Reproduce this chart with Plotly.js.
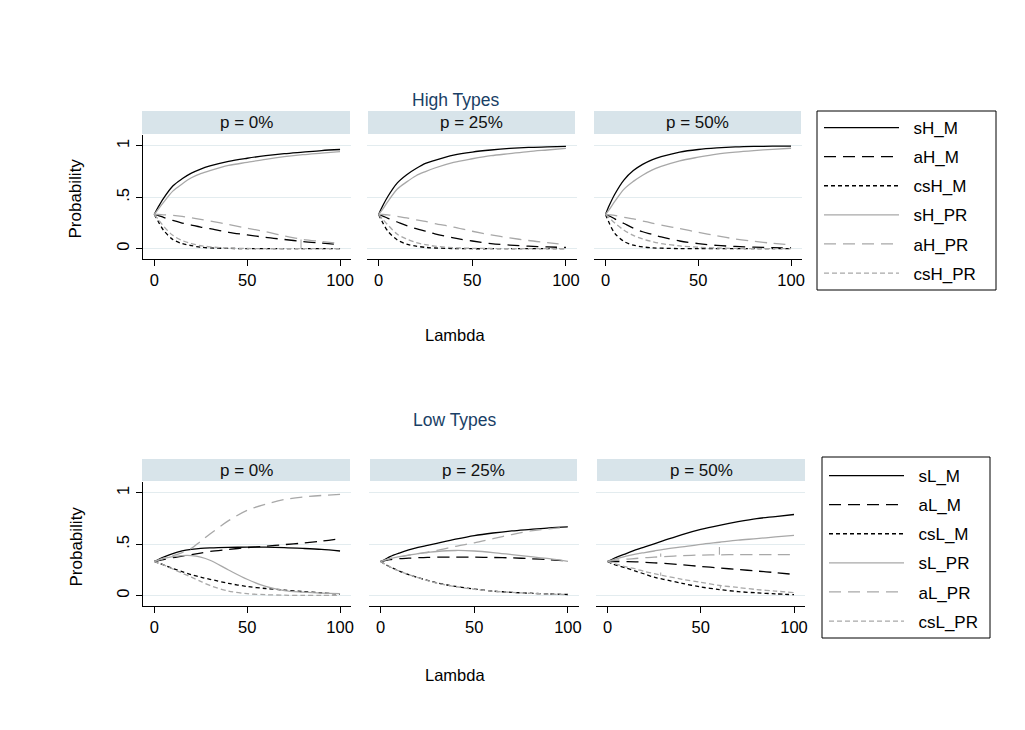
<!DOCTYPE html>
<html><head><meta charset="utf-8">
<script src="https://cdn.plot.ly/plotly-3.0.1.min.js"></script>
<style>html,body{margin:0;padding:0;background:#fff}#chart{width:1025px;height:730px}</style>
</head><body><div id="chart"></div>
<script>
// ---- data ----
const lambda = [0,2,5,10,15,20,25,30,40,50,60,70,80,90,100];
const panelLabels = ['p = 0%','p = 25%','p = 50%'];
const highNames = ['sH_M','aH_M','csH_M','sH_PR','aH_PR','csH_PR'];
const lowNames  = ['sL_M','aL_M','csL_M','sL_PR','aL_PR','csL_PR'];
const yTickVals = [0,0.5,1];
const yTickText = ['0','.5','1'];
const xTickVals = [0,50,100];

// High types, p = 0%
const sH_M_p0  = [.333,.40,.49,.61,.68,.735,.775,.805,.85,.88,.905,.925,.94,.955,.965];
const aH_M_p0  = [.333,.325,.305,.275,.25,.23,.21,.195,.16,.135,.11,.09,.07,.055,.04];
const csH_M_p0 = [.333,.27,.18,.09,.05,.03,.015,.008,.003,.001,0,0,0,0,0];
const sH_PR_p0 = [.333,.38,.45,.56,.63,.69,.73,.76,.81,.84,.87,.895,.915,.93,.945];
const aH_PR_p0 = [.333,.333,.33,.325,.315,.30,.285,.27,.235,.2,.165,.125,.09,.07,.05];
const csH_PR_p0= [.333,.29,.22,.13,.08,.05,.03,.018,.006,.002,0,0,0,0,0];
// High types, p = 25%
const sH_M_p25  = [.333,.41,.51,.64,.72,.78,.83,.86,.91,.94,.96,.975,.985,.99,.995];
const aH_M_p25  = [.333,.32,.295,.26,.225,.195,.17,.145,.105,.075,.05,.035,.025,.017,.012];
const csH_M_p25 = [.333,.26,.17,.085,.045,.025,.013,.007,.002,0,0,0,0,0,0];
const sH_PR_p25 = [.333,.38,.46,.58,.65,.71,.75,.785,.84,.875,.905,.925,.945,.96,.975];
const aH_PR_p25 = [.333,.333,.33,.315,.30,.28,.265,.245,.21,.17,.135,.105,.08,.06,.04];
const csH_PR_p25= [.333,.29,.23,.14,.095,.06,.04,.025,.01,.004,.002,0,0,0,0];
// High types, p = 50%
const sH_M_p50  = [.333,.42,.53,.67,.76,.82,.865,.895,.94,.965,.98,.99,.995,.997,.998];
const aH_M_p50  = [.333,.32,.29,.245,.2,.165,.14,.115,.075,.05,.032,.022,.015,.01,.007];
const csH_M_p50 = [.333,.25,.15,.07,.035,.018,.009,.005,.001,0,0,0,0,0,0];
const sH_PR_p50 = [.333,.38,.46,.58,.655,.715,.765,.80,.855,.89,.92,.94,.955,.967,.977];
const aH_PR_p50 = [.333,.33,.325,.305,.29,.27,.25,.23,.195,.16,.125,.095,.072,.053,.037];
const csH_PR_p50= [.333,.3,.25,.18,.13,.095,.07,.05,.028,.014,.007,.003,.001,.001,.001];

// Low types, p = 0%
const sL_M_p0  = [.333,.35,.375,.41,.435,.45,.46,.465,.47,.472,.472,.468,.46,.45,.435];
const aL_M_p0  = [.333,.34,.35,.37,.385,.40,.415,.43,.45,.468,.482,.497,.512,.53,.555];
const csL_M_p0 = [.333,.32,.3,.265,.235,.205,.18,.16,.12,.09,.07,.055,.04,.028,.015];
const sL_PR_p0 = [.333,.345,.36,.38,.39,.39,.375,.345,.25,.16,.09,.05,.035,.025,.02];
const aL_PR_p0 = [.333,.345,.365,.39,.42,.46,.53,.60,.73,.83,.89,.935,.96,.975,.985];
const csL_PR_p0= [.333,.32,.3,.26,.22,.18,.14,.1,.045,.02,.01,.005,.003,.003,.003];
// Low types, p = 25%
const sL_M_p25  = [.333,.35,.38,.415,.445,.47,.49,.51,.55,.585,.61,.63,.645,.66,.67];
const aL_M_p25  = [.333,.34,.35,.36,.365,.37,.372,.375,.375,.375,.372,.368,.36,.35,.337];
const csL_M_p25 = [.333,.31,.28,.24,.205,.175,.15,.125,.09,.065,.045,.033,.024,.017,.012];
const sL_PR_p25 = [.333,.345,.36,.38,.395,.41,.42,.43,.44,.435,.42,.40,.38,.36,.335];
const aL_PR_p25 = [.333,.345,.36,.38,.395,.41,.425,.44,.48,.515,.555,.595,.63,.65,.665];
const csL_PR_p25= [.333,.31,.28,.24,.205,.175,.148,.123,.088,.063,.044,.032,.023,.016,.011];
// Low types, p = 50%
const sL_M_p50  = [.333,.35,.375,.41,.445,.475,.505,.535,.595,.645,.685,.72,.75,.77,.79];
const aL_M_p50  = [.333,.333,.333,.332,.33,.325,.32,.315,.3,.285,.27,.255,.24,.225,.207];
const csL_M_p50 = [.333,.315,.295,.27,.24,.21,.18,.16,.12,.085,.06,.04,.028,.018,.01];
const sL_PR_p50 = [.333,.345,.36,.385,.405,.42,.435,.45,.475,.5,.52,.54,.555,.572,.587];
const aL_PR_p50 = [.333,.338,.345,.355,.362,.37,.375,.38,.39,.395,.398,.4,.4,.4,.4];
const csL_PR_p50= [.333,.32,.305,.28,.26,.235,.215,.195,.16,.13,.1,.08,.06,.045,.03];

// small vertical glitches visible in the original series
const glitchH0_x = [79,79],     glitchH0_y = [0.09,0.0];     // aH_PR, p=0%
const glitchL50a_x = [28.5,28.5], glitchL50a_y = [0.38,0.41]; // aL_PR, p=50%
const glitchL50b_x = [60,60],   glitchL50b_y = [0.398,0.474]; // aL_PR, p=50%
const glitchL50c_x = [28.5,28.5], glitchL50c_y = [0.195,0.225]; // csL_PR, p=50%
const glitchL50d_x = [60.5,60.5], glitchL50d_y = [0.1,0.07];  // csL_PR, p=50%

// ---- chart ----
const FONT = 'Liberation Sans, Arial, sans-serif';
const W = 1025, H = 730;
const fx = v => v / W, fy = v => 1 - v / H;
const BLACK = '#000000', GRAY = '#a8a8a8';
const colors = [BLACK, BLACK, BLACK, GRAY, GRAY, GRAY];
const dashes = ['solid','12px,7px','4px,3px','solid','12px,7px','5px,3px'];
const NB = '\u00a0\u00a0';

const highPanels = [
  [sH_M_p0, aH_M_p0, csH_M_p0, sH_PR_p0, aH_PR_p0, csH_PR_p0],
  [sH_M_p25, aH_M_p25, csH_M_p25, sH_PR_p25, aH_PR_p25, csH_PR_p25],
  [sH_M_p50, aH_M_p50, csH_M_p50, sH_PR_p50, aH_PR_p50, csH_PR_p50]
];
const lowPanels = [
  [sL_M_p0, aL_M_p0, csL_M_p0, sL_PR_p0, aL_PR_p0, csL_PR_p0],
  [sL_M_p25, aL_M_p25, csL_M_p25, sL_PR_p25, aL_PR_p25, csL_PR_p25],
  [sL_M_p50, aL_M_p50, csL_M_p50, sL_PR_p50, aL_PR_p50, csL_PR_p50]
];

const traces = [];
function addGroup(panels, names, axisOffset, legendId, tag) {
  panels.forEach((series, pi) => {
    const n = axisOffset + pi + 1;
    const xa = n === 1 ? 'x' : 'x' + n, ya = n === 1 ? 'y' : 'y' + n;
    series.forEach((vals, k) => {
      traces.push({
        type: 'scatter', mode: 'lines', x: lambda, y: vals,
        xaxis: xa, yaxis: ya, name: NB + names[k],
        line: {color: colors[k], dash: dashes[k], width: 1.3, shape: 'spline', smoothing: 0.9},
        showlegend: pi === 0, legend: legendId, legendgroup: tag + k,
        hoverinfo: 'skip'
      });
    });
  });
}
addGroup(highPanels, highNames, 0, 'legend', 'H');
addGroup(lowPanels, lowNames, 3, 'legend2', 'L');

function glitch(xs, ys, xa, ya) {
  traces.push({type:'scatter', mode:'lines', x: xs, y: ys, xaxis: xa, yaxis: ya,
    line:{color: GRAY, width: 1.1}, showlegend:false, hoverinfo:'skip'});
}
glitch(glitchH0_x, glitchH0_y, 'x', 'y');
glitch(glitchL50a_x, glitchL50a_y, 'x6', 'y6');
glitch(glitchL50b_x, glitchL50b_y, 'x6', 'y6');
glitch(glitchL50c_x, glitchL50c_y, 'x6', 'y6');
glitch(glitchL50d_x, glitchL50d_y, 'x6', 'y6');

// panel geometry (pixels)
const colsTop = [[142.7,351],[367,577],[594,802]];
const colsBot = [[142.7,351],[369,579],[596,805]];
const rowTop = [135,259], rowBot = [482,606];
const stripTop = [111,134], stripBot = [459,481];

const layout = {
  width: W, height: H,
  margin: {l:0, r:0, t:0, b:0},
  paper_bgcolor: '#ffffff', plot_bgcolor: '#ffffff',
  font: {family: FONT, color: '#000', size: 15},
  showlegend: true,
  shapes: [], annotations: []
};

function axes(n, col, row, first) {
  const xk = n === 1 ? 'xaxis' : 'xaxis' + n;
  const yk = n === 1 ? 'yaxis' : 'yaxis' + n;
  const yid = n === 1 ? 'y' : 'y' + n, xid = n === 1 ? 'x' : 'x' + n;
  layout[xk] = {
    domain: [fx(col[0]), fx(col[1])], anchor: yid, range: [-6.2, 105.9],
    tickvals: xTickVals, ticks: 'outside', ticklen: 6, tickcolor: '#000', tickwidth: 1,
    showline: true, linecolor: '#000', linewidth: 1, showgrid: false, zeroline: false,
    tickfont: {size: 16.5, family: FONT, color: '#000'}, ticklabelstandoff: 0, fixedrange: true
  };
  layout[yk] = {
    domain: [fy(row[1]), fy(row[0])], anchor: xid, range: [-0.1, 1.106],
    tickvals: yTickVals, ticktext: yTickText, tickangle: -90,
    showgrid: true, gridcolor: '#e3ecef', gridwidth: 1, zeroline: false,
    showline: first, linecolor: '#000', linewidth: 1,
    ticks: first ? 'outside' : '', ticklen: 6, tickcolor: '#000',
    showticklabels: first, tickfont: {size: 16.5, family: FONT, color: '#000'}, fixedrange: true
  };
}
colsTop.forEach((c, i) => axes(i + 1, c, rowTop, i === 0));
colsBot.forEach((c, i) => axes(i + 4, c, rowBot, i === 0));

const stripsTop = [[142,350],[368,575],[594,801]];
const stripsBot = [[142,350],[370,577],[597,805]];
function strips(cols, band) {
  cols.forEach((c, i) => {
    layout.shapes.push({type:'rect', xref:'paper', yref:'paper',
      x0: fx(c[0]), x1: fx(c[1]), y0: fy(band[1]), y1: fy(band[0]),
      fillcolor: '#d8e4ea', line: {width: 0}, layer: 'below'});
    layout.annotations.push({xref:'paper', yref:'paper', x: fx((c[0]+c[1])/2), y: fy((band[0]+band[1])/2),
      text: panelLabels[i], showarrow:false, xanchor:'center', yanchor:'middle',
      font:{size:17, family: FONT, color:'#111'}});
  });
}
strips(stripsTop, stripTop);
strips(stripsBot, stripBot);

// legend frames
layout.shapes.push({type:'rect', xref:'paper', yref:'paper', x0: fx(817), x1: fx(996), y0: fy(290), y1: fy(111),
  line:{color:'#000', width:1}, fillcolor:'rgba(0,0,0,0)', layer:'above'});
layout.shapes.push({type:'rect', xref:'paper', yref:'paper', x0: fx(822), x1: fx(990), y0: fy(638), y1: fy(457),
  line:{color:'#000', width:1}, fillcolor:'rgba(0,0,0,0)', layer:'above'});

function label(text, x, y, size, color, angle) {
  layout.annotations.push({xref:'paper', yref:'paper', x: fx(x), y: fy(y), text: text,
    showarrow:false, xanchor:'center', yanchor:'middle', textangle: angle || 0,
    font:{size:size, family: FONT, color: color}});
}
label('High Types', 455, 100, 17.5, '#1a3f66');
label('Low Types', 455, 420, 17.5, '#1a3f66');
label('Probability', 75.5, 199, 17, '#000', -90);
label('Probability', 75.5, 547, 17, '#000', -90);
label('Lambda', 455, 335, 16.5, '#000');
label('Lambda', 455, 675, 16.5, '#000');

const legendBase = {
  xanchor:'left', yanchor:'top', bgcolor:'rgba(0,0,0,0)', borderwidth:0,
  font:{size:17, family: FONT, color:'#000'}, itemwidth: 75, traceorder:'grouped', tracegroupgap: 4,
  itemclick:false, itemdoubleclick:false
};
layout.legend  = Object.assign({}, legendBase, {x: fx(819), y: fy(110)});
layout.legend2 = Object.assign({}, legendBase, {x: fx(824), y: fy(458)});

Plotly.newPlot('chart', traces, layout, {displayModeBar:false, staticPlot:true});
</script>
</body></html>
